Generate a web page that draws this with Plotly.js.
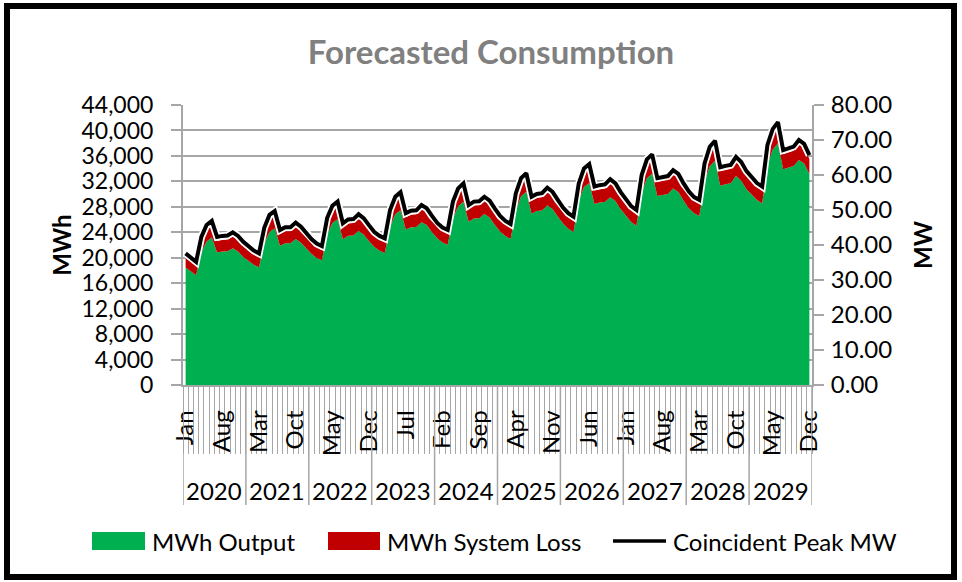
<!DOCTYPE html>
<html>
<head>
<meta charset="utf-8">
<script src="https://cdn.plot.ly/plotly-3.0.1.min.js"></script>
<style>
  html, body { margin: 0; padding: 0; background: #fff; }
  #wrap { position: relative; width: 962px; height: 582px; }
  #chart { position: absolute; left: 0; top: 0; width: 962px; height: 582px; }
  #frame { position: absolute; left: 4px; top: 3px; width: 953px; height: 577px;
           box-sizing: border-box; border: 6px solid #000; pointer-events: none; }
</style>
</head>
<body>
<div id="wrap"><div id="chart"></div><div id="frame"></div></div>
<script>
// ---------------- data ----------------
const years = ['2020','2021','2022','2023','2024','2025','2026','2027','2028','2029'];
const monthNames = ['Jan','Feb','Mar','Apr','May','Jun','Jul','Aug','Sep','Oct','Nov','Dec'];

const mwhOutput = [
  18450,17840,17230,20830,22550,23160,20830,20980,21030,21480,20980,20120,
  19450,18890,18490,22190,24060,24630,21890,22290,22290,22950,22340,21430,
  20610,19950,19600,23660,25440,26050,22900,23460,23510,24220,23610,22590,
  21680,21110,20760,24880,26820,27480,24430,24780,24840,25590,25140,24020,
  23050,22380,22030,26160,28100,28810,25650,26160,26220,26870,26320,25140,
  24120,23410,22940,27440,29650,30360,26930,27340,27440,28260,27650,26480,
  25380,24560,24050,28910,31110,31730,28450,28660,28760,29520,28910,27630,
  26530,25610,25040,30170,32480,33200,29710,29920,30020,30890,30330,28940,
  27790,26970,26560,31900,34360,35230,31330,31540,31690,32870,32100,30770,
  29880,29060,28540,34650,36970,38000,33890,34140,34400,35370,34810,33170
];
const mwhLoss = [
  1600,1550,1500,1810,1960,2010,1810,1820,1830,1870,1820,1750,
  1650,1600,1560,1880,2040,2080,1850,1890,1890,1940,1890,1810,
  1700,1640,1610,1950,2090,2140,1880,1930,1930,1990,1940,1860,
  1730,1690,1660,1990,2140,2200,1950,1980,1980,2050,2010,1920,
  1790,1740,1710,2030,2180,2240,1990,2030,2030,2090,2040,1950,
  1820,1760,1730,2070,2230,2290,2030,2060,2070,2130,2080,1990,
  1880,1820,1780,2140,2310,2350,2110,2120,2130,2190,2140,2050,
  1940,1870,1830,2200,2370,2420,2170,2180,2190,2250,2210,2110,
  2000,1940,1910,2290,2470,2530,2250,2260,2280,2360,2310,2210,
  2110,2050,2020,2450,2610,2680,2390,2410,2430,2500,2460,2340
];
const peakMW = [
  37.6,36.4,35.2,42.3,45.7,46.9,42.3,42.6,42.7,43.6,42.6,40.9,
  39.5,38.4,37.6,44.9,48.6,49.7,44.3,45.1,45.1,46.4,45.2,43.4,
  41.7,40.4,39.7,47.7,51.2,52.4,46.2,47.3,47.4,48.8,47.6,45.6,
  43.7,42.6,41.9,50.0,53.8,55.1,49.1,49.8,49.9,51.4,50.5,48.3,
  46.3,45.0,44.3,52.4,56.2,57.6,51.4,52.4,52.5,53.8,52.7,50.4,
  48.3,46.9,46.0,54.8,59.1,60.5,53.8,54.6,54.8,56.4,55.2,52.9,
  50.7,49.1,48.1,57.6,61.9,63.1,56.7,57.1,57.3,58.8,57.6,55.1,
  52.9,51.1,50.0,60.0,64.5,65.9,59.1,59.5,59.7,61.4,60.3,57.6,
  55.3,53.7,52.9,63.3,68.1,69.8,62.2,62.6,62.9,65.2,63.7,61.1,
  59.3,57.7,56.7,68.6,73.1,75.1,67.1,67.6,68.1,70.0,68.9,65.7
];
const seriesNames = ['MWh Output', 'MWh System Loss', 'Coincident Peak MW'];

// ---------------- derived categories ----------------
const nPer = monthNames.length;
const xIdx = peakMW.map((_, i) => i);
const catMonth = xIdx.map(i => monthNames[i % nPer]);
const catYear = xIdx.map(i => years[Math.floor(i / nPer)]);
const hoverCat = xIdx.map(i => catMonth[i] + ' ' + catYear[i]);
const labelStep = 7;
const tickIdx = xIdx.filter(i => i % labelStep === 0);

// ---------------- styling ----------------
const FONT = 'Lato, "Open Sans", "Liberation Sans", sans-serif';
const GREEN = '#00b050', RED = '#c00000', GRID = '#a6a6a6';
const W = 962, H = 582, L = 183, R = 812, T = 105, B = 385;
const px = p => (p - L) / (R - L);
const py = p => (B - p) / (B - T);

const traces = [
  { x: xIdx, y: mwhOutput, name: seriesNames[0], type: 'scatter', mode: 'lines',
    stackgroup: 'one', line: { width: 0, color: GREEN }, fillcolor: GREEN,
    text: hoverCat, showlegend: false },
  { x: xIdx, y: mwhLoss, name: seriesNames[1], type: 'scatter', mode: 'lines',
    stackgroup: 'one', line: { width: 0, color: RED }, fillcolor: RED,
    text: hoverCat, showlegend: false },
  { x: xIdx, y: peakMW, yaxis: 'y2', type: 'scatter', mode: 'lines',
    line: { width: 7.5, color: '#ffffff' }, hoverinfo: 'skip', showlegend: false },
  { x: xIdx, y: peakMW, name: seriesNames[2], yaxis: 'y2', type: 'scatter', mode: 'lines',
    line: { width: 4, color: '#000000' }, text: hoverCat, showlegend: false }
];

// year dividers and labels
const shapes = [];
const annotations = [];
years.forEach((yr, k) => {
  shapes.push({ type: 'line', xref: 'x', yref: 'paper', x0: k * nPer - 0.5, x1: k * nPer - 0.5,
    y0: 0, y1: py(505), line: { color: GRID, width: 1.5 } });
  annotations.push({ xref: 'x', yref: 'paper', x: k * nPer + (nPer - 1) / 2, y: py(490),
    text: yr, showarrow: false, font: { family: FONT, size: 24, color: '#000' },
    xanchor: 'center', yanchor: 'middle' });
});
shapes.push({ type: 'line', xref: 'x', yref: 'paper', x0: years.length * nPer - 0.5, x1: years.length * nPer - 0.5,
  y0: 0, y1: py(505), line: { color: GRID, width: 1.5 } });

// custom legend
const legY = 541;
const legendItems = [
  { kind: 'rect', color: GREEN, x0: 92, x1: 145, tx: 150, text: seriesNames[0] },
  { kind: 'rect', color: RED, x0: 328, x1: 380, tx: 385, text: seriesNames[1] },
  { kind: 'line', color: '#000', x0: 613, x1: 666, tx: 671, text: seriesNames[2] }
];
legendItems.forEach(it => {
  if (it.kind === 'rect') {
    shapes.push({ type: 'rect', xref: 'paper', yref: 'paper', x0: px(it.x0), x1: px(it.x1),
      y0: py(legY - 9), y1: py(legY + 9), fillcolor: it.color, line: { width: 0 } });
  } else {
    shapes.push({ type: 'line', xref: 'paper', yref: 'paper', x0: px(it.x0), x1: px(it.x1),
      y0: py(legY), y1: py(legY), line: { color: it.color, width: 3.5 } });
  }
  annotations.push({ xref: 'paper', yref: 'paper', x: px(it.tx), y: py(legY), text: it.text,
    showarrow: false, xanchor: 'left', yanchor: 'middle',
    font: { family: FONT, size: 24, color: '#000' } });
});

const layout = {
  width: W, height: H,
  margin: { l: L, r: W - R, t: T, b: H - B, pad: 0 },
  paper_bgcolor: '#ffffff', plot_bgcolor: '#ffffff',
  showlegend: false,
  font: { family: FONT, color: '#000' },
  title: { text: '<b>Forecasted Consumption</b>', x: 491 / W, xanchor: 'center',
    y: 1 - 52 / H, yanchor: 'middle', font: { family: FONT, size: 33, color: '#808080' } },
  xaxis: {
    range: [-0.5, xIdx.length - 0.5], fixedrange: true,
    showgrid: false, zeroline: false, showline: true, linecolor: GRID, linewidth: 1.5,
    tickmode: 'array', tickvals: tickIdx, ticktext: tickIdx.map(i => catMonth[i]),
    tickangle: -90, ticks: '', ticklabelstandoff: 14,
    tickfont: { family: FONT, size: 24, color: '#000' },
    minor: { ticks: 'outside', ticklen: 67, tickwidth: 1, tickcolor: GRID, tick0: -0.5, dtick: 1, showgrid: false }
  },
  yaxis: {
    range: [0, 44000], dtick: 4000, tick0: 0, tickformat: ',d',
    showgrid: true, gridcolor: GRID, gridwidth: 1.5, zeroline: false,
    showline: true, linecolor: GRID, linewidth: 2,
    ticks: 'outside', ticklen: 10, tickcolor: GRID, tickwidth: 1.5, ticklabelstandoff: 13,
    tickfont: { family: FONT, size: 23, color: '#000' },
    title: { text: '<b>MWh</b>', font: { family: FONT, size: 24, color: '#000' }, standoff: 3 }
  },
  yaxis2: {
    overlaying: 'y', side: 'right', range: [0, 80], dtick: 10, tick0: 0, tickformat: '.2f',
    showgrid: false, zeroline: false, showline: true, linecolor: GRID, linewidth: 2,
    ticks: 'outside', ticklen: 10, tickcolor: GRID, tickwidth: 1.5, ticklabelstandoff: 2,
    tickfont: { family: FONT, size: 24, color: '#000' },
    title: { text: '<b>MW</b>', font: { family: FONT, size: 24, color: '#000' }, standoff: 24 }
  },
  shapes: shapes,
  annotations: annotations
};

Plotly.newPlot('chart', traces, layout, { displayModeBar: false, responsive: false });
</script>
</body>
</html>
